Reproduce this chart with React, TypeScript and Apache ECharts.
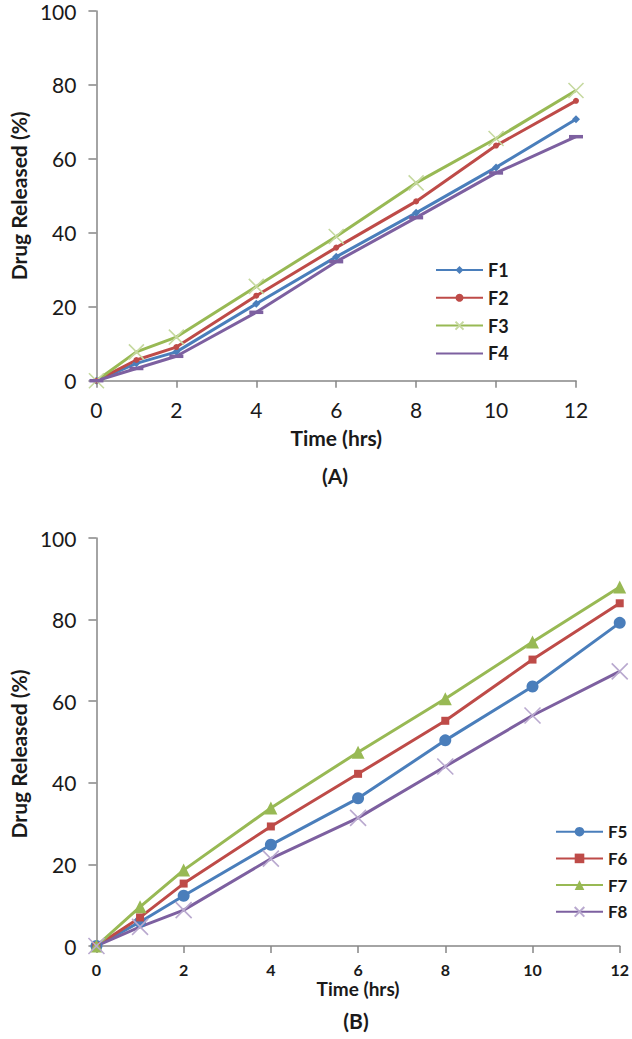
import React, { useEffect, useRef } from "react";
import * as echarts from "echarts";

const times = [0, 1, 2, 4, 6, 8, 10, 12];

// Panel A
const namesA = ["F1", "F2", "F3", "F4"];
const f1 = [0, 4.7, 7.8, 20.8, 33.5, 45.4, 57.7, 70.7];
const f2 = [0, 5.6, 9.1, 23.0, 36.0, 48.5, 63.6, 75.7];
const f3 = [0, 7.8, 11.8, 25.5, 39.0, 53.5, 65.5, 78.5];
const f4 = [0, 3.3, 6.6, 18.5, 32.2, 44.1, 56.2, 66.0];

// Panel B
const namesB = ["F5", "F6", "F7", "F8"];
const f5 = [0, 5.9, 12.3, 24.8, 36.2, 50.4, 63.6, 79.2];
const f6 = [0, 7.0, 15.3, 29.3, 42.2, 55.2, 70.2, 84.0];
const f7 = [0, 9.6, 18.6, 33.8, 47.5, 60.6, 74.5, 88.0];
const f8 = [0, 4.7, 8.8, 21.4, 31.4, 44.0, 56.5, 67.3];

const xMin = 0;
const xMax = 12;
const xInterval = 2;
const yMin = 0;
const yMax = 100;
const yInterval = 20;

const xTitle = "Time (hrs)";
const yTitle = "Drug Released (%)";
const panelLabels = ["(A)", "(B)"];

const BLUE = "#4A7EBB";
const RED = "#BE4B48";
const GREEN = "#98B954";
const PURPLE = "#7D60A0";
const LIGHT_GREEN = "#C6D9A0";
const LIGHT_PURPLE = "#B9A9CF";
const AXIS = "#868686";
const FONT = "Lato, 'Open Sans', sans-serif";

const CROSS = "path://M0,0L10,10M10,0L0,10";

function pairs(vals: number[]) {
  return times.map((t, i) => [t, vals[i]]);
}

function lineSeries(
  name: string,
  vals: number[],
  idx: number,
  color: string,
  symbol: string,
  symbolSize: number | number[],
  markColor: string,
  stroke: boolean
) {
  return {
    type: "line",
    name,
    xAxisIndex: idx,
    yAxisIndex: idx,
    data: pairs(vals),
    symbol,
    symbolSize,
    showAllSymbol: true,
    lineStyle: { color, width: 3 },
    itemStyle: stroke
      ? { color: "rgba(0,0,0,0)", borderColor: markColor, borderWidth: 1.6 }
      : { color: markColor, borderWidth: 0 },
    emphasis: { disabled: true },
    z: 2,
  };
}

function xAxis(idx: number, labelSize: number, labelWeight: string, gap: number, nameSize: number, labelMargin: number) {
  return {
    type: "value",
    gridIndex: idx,
    min: xMin,
    max: xMax,
    interval: xInterval,
    name: xTitle,
    nameLocation: "middle",
    nameGap: gap,
    nameTextStyle: { fontFamily: FONT, fontWeight: "bold", fontSize: nameSize, color: "#1a1a1a" },
    axisLine: { show: true, lineStyle: { color: AXIS, width: 1.5 } },
    axisTick: { show: true, length: 7, lineStyle: { color: AXIS, width: 1.5 } },
    axisLabel: { fontFamily: FONT, fontSize: labelSize, fontWeight: labelWeight, color: "#1a1a1a", margin: labelMargin },
    splitLine: { show: false },
  };
}

function yAxis(idx: number, gap: number, namePadding: number[]) {
  return {
    type: "value",
    gridIndex: idx,
    min: yMin,
    max: yMax,
    interval: yInterval,
    name: yTitle,
    nameLocation: "middle",
    nameGap: gap,
    nameTextStyle: { fontFamily: FONT, fontWeight: "bold", fontSize: 21, color: "#1a1a1a", padding: namePadding },
    axisLine: { show: true, lineStyle: { color: AXIS, width: 1.5 } },
    axisTick: { show: true, length: 8, lineStyle: { color: AXIS, width: 1.5 } },
    axisLabel: { fontFamily: FONT, fontSize: 21, lineHeight: 16, color: "#1a1a1a", margin: 20 },
    splitLine: { show: false },
  };
}

export default function App() {
  const ref = useRef<HTMLDivElement>(null);

  useEffect(() => {
    if (!ref.current) return;
    const chart = echarts.init(ref.current, null, { renderer: "svg" });
    chart.setOption({
      animation: false,
      backgroundColor: "#ffffff",
      grid: [
        { left: 90.7, top: 11, width: 485.3, height: 369.7, containLabel: false },
        { left: 90.7, top: 538, width: 530.1, height: 408, containLabel: false },
      ],
      xAxis: [xAxis(0, 21, "normal", 46, 21, 18), xAxis(1, 16, "bold", 33, 19, 15)],
      yAxis: [yAxis(0, 67, [0, 0, 0, 0]), yAxis(1, 66, [0, 24, 0, 0])],
      legend: [
        {
          data: [
            { name: namesA[0] },
            { name: namesA[1] },
            { name: namesA[2] },
            { name: namesA[3], itemStyle: { color: "rgba(0,0,0,0)" } },
          ],
          orient: "vertical",
          left: 430,
          top: 256,
          itemWidth: 47,
          itemHeight: 10,
          itemGap: 9.8,
          selectedMode: false,
          textStyle: { fontFamily: FONT, fontWeight: "bold", fontSize: 18, color: "#1a1a1a", lineHeight: 18 },
        },
        {
          data: namesB,
          orient: "vertical",
          left: 550,
          top: 817.7,
          itemWidth: 47,
          itemHeight: 12,
          itemGap: 8.7,
          selectedMode: false,
          textStyle: { fontFamily: FONT, fontWeight: "bold", fontSize: 17, color: "#1a1a1a", lineHeight: 18 },
        },
      ],
      series: [
        lineSeries(namesA[0], f1, 0, BLUE, "diamond", 8, BLUE, false),
        lineSeries(namesA[1], f2, 0, RED, "circle", 6, RED, false),
        lineSeries(namesA[2], f3, 0, GREEN, CROSS, 15, LIGHT_GREEN, true),
        lineSeries(namesA[3], f4, 0, PURPLE, "rect", [14, 3.5], PURPLE, false),
        lineSeries(namesB[0], f5, 1, BLUE, "circle", 12, BLUE, false),
        lineSeries(namesB[1], f6, 1, RED, "rect", 8, RED, false),
        lineSeries(namesB[2], f7, 1, GREEN, "triangle", 13, GREEN, false),
        lineSeries(namesB[3], f8, 1, PURPLE, CROSS, 16, LIGHT_PURPLE, true),
      ],
      graphic: [
        {
          type: "text",
          x: 335,
          y: 475,
          style: {
            text: panelLabels[0],
            fontFamily: FONT,
            fontWeight: "bold",
            fontSize: 21,
            fill: "#1a1a1a",
            align: "center",
            verticalAlign: "middle",
          },
        },
        {
          type: "text",
          x: 356,
          y: 1020,
          style: {
            text: panelLabels[1],
            fontFamily: FONT,
            fontWeight: "bold",
            fontSize: 21,
            fill: "#1a1a1a",
            align: "center",
            verticalAlign: "middle",
          },
        },
      ],
    });
    return () => chart.dispose();
  }, []);

  return (
    <div
      ref={ref}
      style={{ position: "absolute", left: 0, top: 0, width: 632, height: 1039, background: "#fff" }}
    />
  );
}
